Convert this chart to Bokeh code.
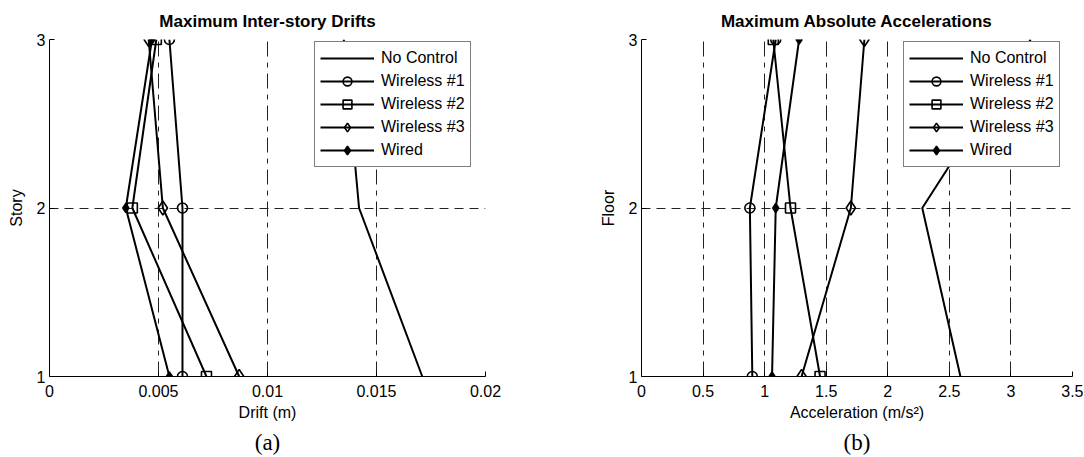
from bokeh.plotting import figure
from bokeh.models import Range1d, FixedTicker, Legend, LegendItem, LinearAxis
from bokeh.layouts import row
from bokeh.embed import file_html
from bokeh.resources import INLINE

# ---------------- data ----------------
stories = [1, 2, 3]
series_names = ["No Control", "Wireless #1", "Wireless #2", "Wireless #3", "Wired"]

drift_ticks = [0, 0.005, 0.01, 0.015, 0.02]
drift_tick_labels = ["0", "0.005", "0.01", "0.015", "0.02"]
drift_no_control = [0.0171, 0.0142, 0.0135]
drift_wireless1 = [0.0061, 0.0061, 0.0055]
drift_wireless2 = [0.0072, 0.0038, 0.0049]
drift_wireless3 = [0.0087, 0.0052, 0.00455]
drift_wired = [0.0055, 0.0035, 0.0047]

acc_ticks = [0, 0.5, 1, 1.5, 2, 2.5, 3, 3.5]
acc_tick_labels = ["0", "0.5", "1", "1.5", "2", "2.5", "3", "3.5"]
acc_no_control = [2.59, 2.28, 3.16]
acc_wireless1 = [0.90, 0.88, 1.09]
acc_wireless2 = [1.45, 1.21, 1.07]
acc_wireless3 = [1.30, 1.70, 1.81]
acc_wired = [1.06, 1.09, 1.28]

story_ticks = [1, 2, 3]
story_tick_labels = ["1", "2", "3"]

# marker styles: (marker, size, fill)
marker_styles = [None, ("circle", 10, None), ("square", 10, None),
                 ("diamond", 14, None), ("diamond", 9, "black")]

SANS = "Liberation Sans"
SERIF = "Liberation Serif"
HEIGHT = 457
TOP = 38
FRAME_H = 338


def make_panel(title, xlabel, ylabel, xr, xticks, xlabels, series, width,
               left, right, legend_loc, panel_label):
    p = figure(width=width, height=HEIGHT, output_backend="svg",
               toolbar_location=None, x_range=Range1d(*xr),
               y_range=Range1d(1, 3), min_border_left=left,
               min_border_right=right, min_border_top=TOP,
               min_border_bottom=HEIGHT - TOP - FRAME_H)
    p.outline_line_color = None
    p.background_fill_color = "white"
    p.border_fill_color = "white"

    p.title.text = title
    p.title.align = "center"
    p.title.text_font = SANS
    p.title.text_font_size = "17px"
    p.title.text_font_style = "bold"
    p.title.text_color = "black"
    p.title.standoff = 18

    xt = FixedTicker(ticks=xticks)
    yt = FixedTicker(ticks=story_ticks)
    p.xaxis.ticker = xt
    p.yaxis.ticker = yt
    p.xgrid.ticker = xt
    p.ygrid.ticker = yt
    p.xaxis.major_label_overrides = {t: l for t, l in zip(xticks, xlabels)}
    p.yaxis.major_label_overrides = {t: l for t, l in zip(story_ticks, story_tick_labels)}

    for ax in (p.xaxis, p.yaxis):
        ax.axis_line_color = "black"
        ax.axis_line_width = 1
        ax.major_tick_in = 5
        ax.major_tick_out = 0
        ax.major_tick_line_color = "black"
        ax.minor_tick_line_color = None
        ax.major_label_text_font = SANS
        ax.major_label_text_font_size = "16px"
        ax.major_label_text_color = "black"
        ax.axis_label_text_font = SANS
        ax.axis_label_text_font_size = "16px"
        ax.axis_label_text_font_style = "normal"
        ax.axis_label_text_color = "black"
    p.xaxis.axis_label = xlabel
    p.yaxis.axis_label = ylabel
    p.xaxis.major_label_standoff = 8
    p.yaxis.major_label_standoff = 4
    p.xaxis.axis_label_standoff = 4
    p.yaxis.axis_label_standoff = 9

    p.xgrid.grid_line_color = "#222222"
    p.xgrid.grid_line_dash = "15 6 5 6"
    p.xgrid.grid_line_width = 1
    p.ygrid.grid_line_color = "#222222"
    p.ygrid.grid_line_dash = "9 6"
    p.ygrid.grid_line_width = 1

    items = []
    for name, xs, style in zip(series_names, series, marker_styles):
        rs = []
        lr = p.line(xs, stories, line_color="black", line_width=2)
        rs.append(lr)
        if style is not None:
            mk, sz, fill = style
            sr = p.scatter(xs, stories, marker=mk, size=sz,
                           line_color="black", line_width=1.6,
                           fill_color=fill, fill_alpha=1.0 if fill else 0.0)
            rs.append(sr)
        items.append(LegendItem(label=name, renderers=rs))

    legend = Legend(items=items, location=legend_loc)
    legend.border_line_color = "black"
    legend.border_line_width = 1
    legend.background_fill_color = "white"
    legend.background_fill_alpha = 1.0
    legend.label_text_font = SANS
    legend.label_text_font_size = "16px"
    legend.label_text_color = "black"
    legend.glyph_width = 54
    legend.glyph_height = 22
    legend.label_height = 22
    legend.label_standoff = 7
    legend.padding = 5
    legend.spacing = 1
    legend.margin = 0
    p.add_layout(legend)

    # panel caption "(a)" / "(b)" as the label of a bare extra axis below
    cap = LinearAxis(ticker=FixedTicker(ticks=[]), axis_label=panel_label)
    cap.axis_line_color = None
    cap.major_tick_line_color = None
    cap.minor_tick_line_color = None
    cap.major_tick_in = 0
    cap.major_tick_out = 0
    cap.major_label_standoff = 0
    cap.major_label_text_font_size = "0px"
    cap.axis_label_standoff = 6
    cap.axis_label_text_font = SERIF
    cap.axis_label_text_font_size = "23px"
    cap.axis_label_text_font_style = "normal"
    cap.axis_label_text_color = "black"
    p.add_layout(cap, "below")
    return p


p1 = make_panel("Maximum Inter-story Drifts", "Drift (m)", "Story", (0, 0.02),
                drift_ticks, drift_tick_labels,
                [drift_no_control, drift_wireless1, drift_wireless2,
                 drift_wireless3, drift_wired],
                width=596, left=49, right=111,
                legend_loc=(265, 209), panel_label="(a)")

p2 = make_panel("Maximum Absolute Accelerations", "Acceleration (m/s²)", "Floor",
                (0, 3.5), acc_ticks, acc_tick_labels,
                [acc_no_control, acc_wireless1, acc_wireless2,
                 acc_wireless3, acc_wired],
                width=487, left=42, right=11,
                legend_loc=(262, 209), panel_label="(b)")

layout = row(p1, p2)
open("out.html", "w").write(file_html(layout, INLINE))
